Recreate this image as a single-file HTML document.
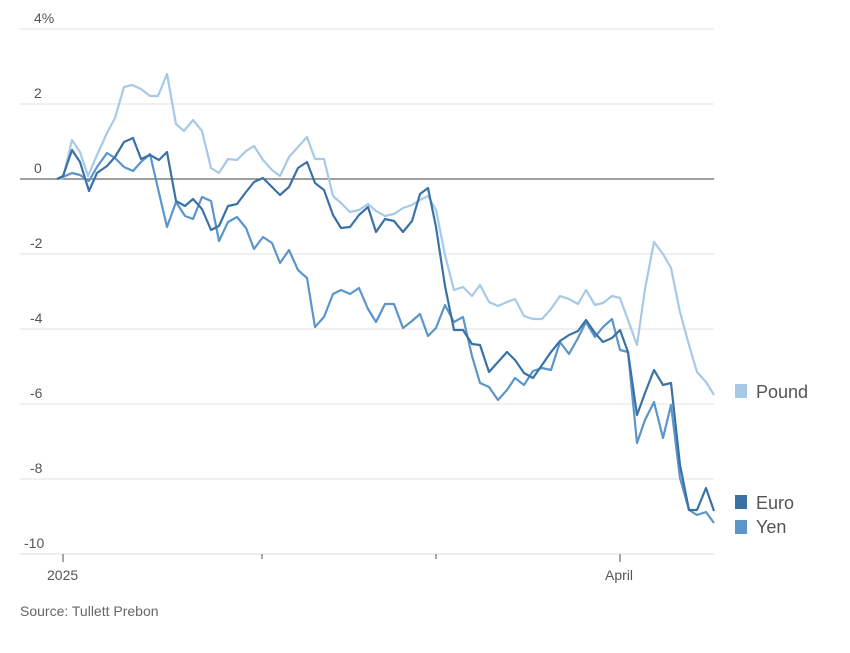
<!DOCTYPE html>
<html><head><meta charset="utf-8"><style>
body{margin:0;background:#fff;}
svg{display:block;font-family:"Liberation Sans",sans-serif;}
</style></head><body>
<svg width="850" height="653" viewBox="0 0 850 653">
<g stroke="#e6e6e6" stroke-width="1.2">
<line x1="20" y1="29" x2="714" y2="29"/>
<line x1="20" y1="104" x2="714" y2="104"/>
<line x1="20" y1="254" x2="714" y2="254"/>
<line x1="20" y1="329" x2="714" y2="329"/>
<line x1="20" y1="404" x2="714" y2="404"/>
<line x1="20" y1="479" x2="714" y2="479"/>
</g>
<line x1="20" y1="179" x2="714" y2="179" stroke="#666" stroke-width="1.3"/>
<line x1="20" y1="554" x2="714" y2="554" stroke="#ddd" stroke-width="1"/>
<g stroke="#777" stroke-width="1.3">
<line x1="63" y1="554" x2="63" y2="562"/>
<line x1="262" y1="554" x2="262" y2="559"/>
<line x1="436" y1="554" x2="436" y2="559"/>
<line x1="620" y1="554" x2="620" y2="562"/>
</g>
<g fill="#555" font-size="14">
<text x="34" y="23">4%</text>
<text x="34" y="98">2</text>
<text x="34" y="173">0</text>
<text x="30" y="248">-2</text>
<text x="30" y="323">-4</text>
<text x="30" y="398">-6</text>
<text x="30" y="473">-8</text>
<text x="24" y="548">-10</text>
<text x="47" y="580">2025</text>
<text x="605" y="580">April</text>
<text x="20" y="616" fill="#666">Source: Tullett Prebon</text>
</g>
<g fill="none" stroke-width="2.2" stroke-linejoin="round">
<polyline stroke="#a7c9e8" points="57,179 63,178 72,140 80,152 88,176 97,155 107,133 115,118 124,87 132,85 141,89 150,96 158,96 167,74 176,124 184,131 193,120 202,131 211,168 219,173 228,159 237,160 246,151 254,146 263,160 272,170 280,176 289,157 298,147 307,137 315,159 324,159 333,196 341,203 350,212 359,210 368,204 376,211 385,216 394,214 403,208 412,205 420,200 428,196 436,210 445,255 454,290 463,287 472,296 480,285 489,302 498,306 507,302 515,299 524,316 533,319 542,319 551,309 560,296 569,299 578,304 586,290 595,305 603,303 612,296 620,298 628,320 637,345 645,289 654,242 663,254 671,268 680,312 689,345 697,372 706,382 714,395"/>
<polyline stroke="#5b95c9" points="57,179 63,177 72,173 80,175 89,181 97,167 107,153 115,158 124,167 133,171 141,162 150,154 159,193 167,227 176,202 185,216 193,219 202,197 211,201 219,241 228,222 237,217 246,228 254,249 263,237 272,243 280,263 289,250 298,270 307,278 315,327 324,317 333,294 341,290 350,294 359,288 368,309 376,322 385,304 394,304 403,328 412,321 420,314 428,336 436,328 445,305 454,322 463,317 472,356 480,383 489,387 498,400 507,390 515,378 524,385 533,371 542,368 551,370 560,342 569,354 578,338 586,322 595,337 603,327 612,319 620,350 628,352 637,443 645,420 654,402 663,438 671,405 680,478 689,510 697,515 706,512 714,523"/>
<polyline stroke="#3b72a6" points="57,179 63,176 72,150 80,162 89,191 97,173 107,166 115,157 124,142 133,138 141,159 150,155 159,160 167,152 176,201 185,206 193,199 202,209 211,230 219,226 228,206 237,204 246,192 254,182 263,178 272,187 280,195 289,187 298,168 307,162 315,183 324,190 333,215 341,228 350,227 359,215 368,207 376,232 385,219 394,221 403,232 412,221 420,194 428,188 436,227 445,286 454,330 463,330 472,344 480,345 489,372 498,362 507,352 515,360 524,373 533,378 542,365 551,352 560,341 569,335 578,331 586,320 595,333 603,342 612,338 620,330 628,352 637,415 645,393 654,370 663,385 671,383 680,465 689,510 697,510 706,488 714,511"/>
</g>
<rect x="735" y="384" width="12" height="14" fill="#a7c9e8"/>
<rect x="735" y="495" width="12" height="14" fill="#3b72a6"/>
<rect x="735" y="520" width="12" height="14" fill="#5b95c9"/>
<g fill="#555" font-size="18">
<text x="756" y="398">Pound</text>
<text x="756" y="509">Euro</text>
<text x="756" y="533">Yen</text>
</g>
</svg>
</body></html>
